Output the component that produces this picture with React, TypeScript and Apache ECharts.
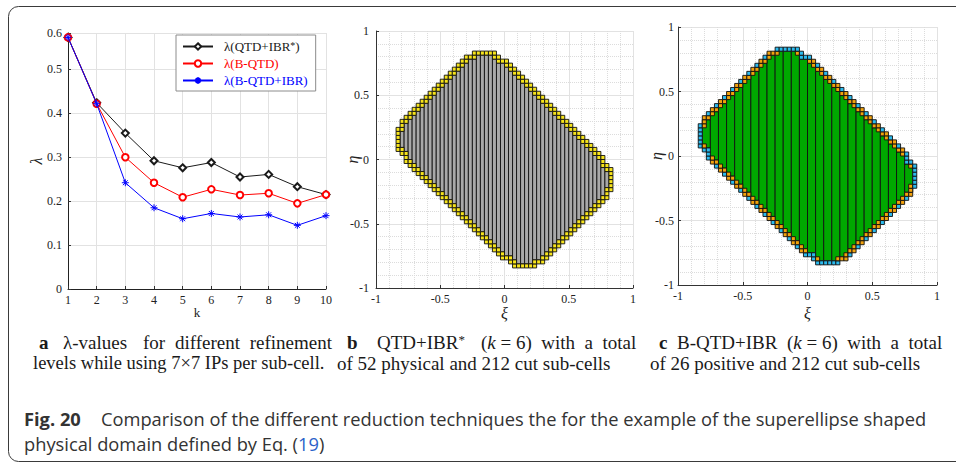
import React, { useEffect, useRef } from "react";
import * as echarts from "echarts";

// ---------- Panel a: lambda values ----------
const K_VALUES = [1, 2, 3, 4, 5, 6, 7, 8, 9, 10];
const LAMBDA_QTD_IBR = [0.573, 0.424, 0.355, 0.292, 0.276, 0.288, 0.255, 0.261, 0.233, 0.215];
const LAMBDA_B_QTD = [0.573, 0.422, 0.3, 0.242, 0.209, 0.227, 0.214, 0.218, 0.195, 0.215];
const LAMBDA_B_QTD_IBR = [0.573, 0.422, 0.242, 0.185, 0.16, 0.172, 0.164, 0.169, 0.145, 0.167];
const SERIES_NAMES = ["λ(QTD+IBR*)", "λ(B-QTD)", "λ(B-QTD+IBR)"];
const SERIES_COLORS = ["#1a1a1a", "#ff0000", "#0000ff"];
const LAMBDA_AXIS_MAX = 0.583;

// ---------- Panels b, c: superellipse physical domain (Eq. 19), k = 6 ----------
const DOMAIN_HALF_AXIS_A = 0.755;
const DOMAIN_HALF_AXIS_B = 0.535;
const DOMAIN_EXPONENT = 8;
const DOMAIN_ROTATION_DEG = 45;
const REFINEMENT_LEVEL = 6;
const FIELD_TICK_INTERVAL = 0.5;

const SERIF = "'Liberation Serif', 'Times New Roman', serif";
const SANS = "'Open Sans', 'Noto Sans', sans-serif";
const CAP_SIZE = 19;

function insideDomain(x: number, y: number) {
  const t = (DOMAIN_ROTATION_DEG * Math.PI) / 180;
  const u = x * Math.cos(t) - y * Math.sin(t);
  const v = x * Math.sin(t) + y * Math.cos(t);
  return (
    Math.pow(Math.abs(u) / DOMAIN_HALF_AXIS_A, DOMAIN_EXPONENT) +
      Math.pow(Math.abs(v) / DOMAIN_HALF_AXIS_B, DOMAIN_EXPONENT) <=
    1
  );
}

function buildCells() {
  const nc = Math.pow(2, REFINEMENT_LEVEL);
  const h = 2 / nc;
  const S = 12;
  const total = (S + 1) * (S + 1);
  const full: number[][] = [];
  const isFull: boolean[][] = [];
  const cut: { i: number; j: number; frac: number }[] = [];
  for (let i = 0; i < nc; i++) {
    full.push([]);
    isFull.push([]);
    for (let j = 0; j < nc; j++) {
      let cnt = 0;
      for (let a = 0; a <= S; a++) {
        for (let b = 0; b <= S; b++) {
          if (insideDomain(-1 + (i + a / S) * h, -1 + (j + b / S) * h)) cnt++;
        }
      }
      isFull[i].push(cnt === total);
      if (cnt === total) full[i].push(j);
      else if (cnt > 0) cut.push({ i, j, frac: cnt / total });
    }
  }
  return { nc, h, full, isFull, cut };
}

function panelData(groupWidth: number, twoTone: boolean) {
  const { nc, h, full, isFull, cut } = buildCells();
  const out: number[][] = [];
  for (let i = 0; i < nc; i += groupWidth) {
    let rows: number[] = [];
    for (let g = 0; g < groupWidth; g++) rows = rows.concat(full[i + g] || []);
    if (!rows.length) continue;
    const jmin = Math.min(...rows);
    const jmax = Math.max(...rows);
    out.push([-1 + i * h, -1 + jmin * h, -1 + (i + groupWidth) * h, -1 + (jmax + 1) * h, 0]);
  }
  for (const c of cut) {
    let col = 1;
    if (twoTone) {
      // parent (k-1) cell holding any fully physical sub-cell -> orange, otherwise cyan
      const pi = c.i - (c.i % 2);
      const pj = c.j - (c.j % 2);
      const parentHasFull =
        isFull[pi][pj] || isFull[pi][pj + 1] || isFull[pi + 1][pj] || isFull[pi + 1][pj + 1];
      col = parentHasFull ? 1 : 2;
    }
    out.push([-1 + c.i * h, -1 + c.j * h, -1 + (c.i + 1) * h, -1 + (c.j + 1) * h, col]);
  }
  return out;
}

const makeRender = (palette: string[]) => (_params: any, api: any) => {
  const p0 = api.coord([api.value(0), api.value(3)]);
  const p1 = api.coord([api.value(2), api.value(1)]);
  return {
    type: "rect",
    shape: { x: p0[0], y: p0[1], width: p1[0] - p0[0], height: p1[1] - p0[1] },
    style: { fill: palette[api.value(4)], stroke: "#111", lineWidth: 0.9 },
  };
};

const fieldAxis = (gridIndex: number, name: string, isY: boolean, labelMargin: number, nameGap: number) => ({
  type: "value",
  gridIndex,
  min: -1,
  max: 1,
  interval: FIELD_TICK_INTERVAL,
  name,
  nameLocation: "middle",
  nameGap,
  nameMoveOverlap: false,
  nameRotate: isY ? 90 : 0,
  nameTextStyle: { fontFamily: SERIF, fontSize: 16, fontStyle: "italic", color: "#222" },
  axisLine: { show: true, onZero: false, lineStyle: { color: "#333", width: 1 } },
  axisTick: { show: true, inside: true, length: 3, lineStyle: { color: "#333" } },
  axisLabel: { margin: labelMargin, fontFamily: SERIF, fontSize: 12, color: "#222", formatter: (v: number) => String(v) },
  splitLine: { show: true, lineStyle: { color: "#e2e2e2", width: 1 } },
  minorTick: { show: false, splitNumber: 5 },
  minorSplitLine: { show: true, lineStyle: { color: "#dcdcdc", type: "dotted", width: 1 } },
});

const richSerif = {
  n: { fontFamily: SERIF, fontSize: CAP_SIZE, fill: "#1a1a1a", verticalAlign: "bottom" },
  i: { fontFamily: SERIF, fontSize: CAP_SIZE, fill: "#1a1a1a", fontStyle: "italic", verticalAlign: "bottom" },
  s: { fontFamily: SERIF, fontSize: 13, fill: "#1a1a1a", verticalAlign: "top" },
};

const T = (x: number, y: number, text: string, extra: any = {}) => ({
  type: "text",
  x,
  y,
  silent: true,
  style: {
    text,
    fontFamily: SERIF,
    fontSize: CAP_SIZE,
    fill: "#1a1a1a",
    align: "left",
    verticalAlign: "middle",
    ...extra,
  },
});

export default function App() {
  const ref = useRef<HTMLDivElement>(null);
  useEffect(() => {
    if (!ref.current) return;
    const chart = echarts.init(ref.current, undefined, { renderer: "svg" });
    const lineData = [LAMBDA_QTD_IBR, LAMBDA_B_QTD, LAMBDA_B_QTD_IBR];
    const symbols = [
      "emptyDiamond",
      "emptyCircle",
      "path://M5,0L5,10M0,5L10,5M1.5,1.5L8.5,8.5M1.5,8.5L8.5,1.5",
    ];
    const symbolSizes = [7, 6.5, 7];
    const gridBase = { containLabel: false, outerBoundsMode: "none" };
    const capSans = { fontFamily: SANS, fontSize: 18.3, fill: "#333" };
    const option: any = {
      animation: false,
      backgroundColor: "#ffffff",
      grid: [
        { left: 68, top: 33, width: 258, height: 256, ...gridBase },
        { left: 376, top: 31, width: 257, height: 257, ...gridBase },
        { left: 678, top: 27, width: 259, height: 258, ...gridBase },
      ],
      xAxis: [
        {
          type: "value",
          gridIndex: 0,
          min: 1,
          max: 10,
          interval: 1,
          name: "k",
          nameLocation: "middle",
          nameGap: 17,
          nameMoveOverlap: false,
          nameTextStyle: { fontFamily: SERIF, fontSize: 13, color: "#222" },
          axisLine: { show: true, onZero: false, lineStyle: { color: "#222", width: 1 } },
          axisTick: { show: true, inside: true, length: 3, lineStyle: { color: "#333" } },
          axisLabel: { margin: 5, fontFamily: SERIF, fontSize: 12, color: "#222" },
          splitLine: { show: true, lineStyle: { color: "#e2e2e2", width: 1 } },
        },
        fieldAxis(1, "ξ", false, 5, 17),
        fieldAxis(2, "ξ", false, 5, 20),
      ],
      yAxis: [
        {
          type: "value",
          gridIndex: 0,
          min: 0,
          max: LAMBDA_AXIS_MAX,
          interval: 0.1,
          name: "λ",
          nameLocation: "middle",
          nameGap: 24,
          nameMoveOverlap: false,
          nameRotate: 90,
          nameTextStyle: { fontFamily: SERIF, fontSize: 16, fontStyle: "italic", color: "#222" },
          axisLine: { show: true, onZero: false, lineStyle: { color: "#222", width: 1 } },
          axisTick: { show: true, inside: true, length: 3, lineStyle: { color: "#333" } },
          axisLabel: {
            margin: 6,
            fontFamily: SERIF,
            fontSize: 12,
            color: "#222",
            formatter: (v: number) => (v === 0 ? "0" : v.toFixed(1)),
          },
          splitLine: { show: true, lineStyle: { color: "#e2e2e2", width: 1 } },
        },
        fieldAxis(1, "η", true, 7, 16),
        fieldAxis(2, "η", true, 4, 14),
      ],
      legend: {
        show: true,
        orient: "vertical",
        left: 176,
        top: 35,
        padding: [5, 8, 4, 6],
        itemGap: 4,
        itemWidth: 30,
        itemHeight: 8,
        backgroundColor: "#ffffff",
        borderColor: "#8c8c8c",
        borderWidth: 1,
        borderRadius: 0,
        data: SERIES_NAMES.map((n, i) => ({ name: n, textStyle: { color: SERIES_COLORS[i] } })),
        formatter: (name: string) => {
          const idx = SERIES_NAMES.indexOf(name);
          if (name.endsWith("*)")) {
            return `{n${idx}|${name.slice(0, -2)}}{s${idx}|*}{n${idx}|)}`;
          }
          return `{n${idx}|${name}}`;
        },
        textStyle: {
          fontFamily: SERIF,
          fontSize: 13,
          padding: [0, 0, 0, 6],
          rich: Object.fromEntries(
            SERIES_COLORS.flatMap((c, i) => [
              [`n${i}`, { color: c, fontFamily: SERIF, fontSize: 13, verticalAlign: "bottom" }],
              [`s${i}`, { color: c, fontFamily: SERIF, fontSize: 10, verticalAlign: "top" }],
            ])
          ),
        },
      },
      series: [
        ...lineData.map((vals, s) => ({
          type: "line",
          name: SERIES_NAMES[s],
          xAxisIndex: 0,
          yAxisIndex: 0,
          data: K_VALUES.map((k, i) => [k, vals[i]]),
          symbol: symbols[s],
          symbolSize: symbolSizes[s],
          symbolKeepAspect: true,
          showSymbol: true,
          lineStyle: { color: SERIES_COLORS[s], width: 1 },
          itemStyle: { color: SERIES_COLORS[s], borderColor: SERIES_COLORS[s], borderWidth: 1 },
          z: 3 + s,
        })),
        {
          type: "custom",
          name: "QTD+IBR*",
          xAxisIndex: 1,
          yAxisIndex: 1,
          encode: { x: [0, 2], y: [1, 3] },
          renderItem: makeRender(["#a9a9a9", "#f7e41c"]),
          data: panelData(1, false),
        },
        {
          type: "custom",
          name: "B-QTD+IBR",
          xAxisIndex: 2,
          yAxisIndex: 2,
          encode: { x: [0, 2], y: [1, 3] },
          renderItem: makeRender(["#00a800", "#f2a20c", "#2bbbee"]),
          data: panelData(2, true),
        },
      ],
      graphic: [
        {
          type: "rect",
          silent: true,
          shape: { x: 8.5, y: 6.5, width: 1000, height: 455, r: 10 },
          style: { fill: "none", stroke: "#3a3a3a", lineWidth: 1 },
        },
        // caption a
        T(39, 342, "a", { fontWeight: "bold" }),
        T(63, 342, "λ-values"),
        T(143, 342, "for"),
        T(175, 342, "different"),
        T(332, 342, "refinement", { align: "right" }),
        T(33, 363, "levels while using 7×7 IPs per sub-cell.", { fontSize: 18.5 }),
        // caption b
        T(347, 342, "b", { fontWeight: "bold" }),
        T(377, 342, "{n|QTD+IBR}{s|*}", { rich: richSerif }),
        T(481, 342, "{n|(}{i|k}{n| = 6)  with  a  total}", { rich: richSerif }),
        T(337, 363, "of 52 physical and 212 cut sub-cells"),
        // caption c
        T(659, 342, "c", { fontWeight: "bold" }),
        T(677, 342, "{n|B-QTD+IBR  (}{i|k}{n| = 6)  with  a  total}", { rich: richSerif }),
        T(650, 363, "of 26 positive and 212 cut sub-cells"),
        // figure caption
        T(24, 418, "Fig. 20", { ...capSans, fontWeight: "bold" }),
        T(
          101,
          418,
          "Comparison of the different reduction techniques the for the example of the superellipse shaped",
          capSans
        ),
        T(24, 443, "{a|physical domain defined by Eq. (}{b|19}{a|)}", {
          rich: {
            a: { ...capSans },
            b: { ...capSans, fill: "#2a62c9" },
          },
        }),
      ],
    };
    chart.setOption(option);
    return () => chart.dispose();
  }, []);
  return (
    <div
      ref={ref}
      style={{ position: "absolute", left: 0, top: 0, width: 956, height: 463, background: "#fff" }}
    />
  );
}
